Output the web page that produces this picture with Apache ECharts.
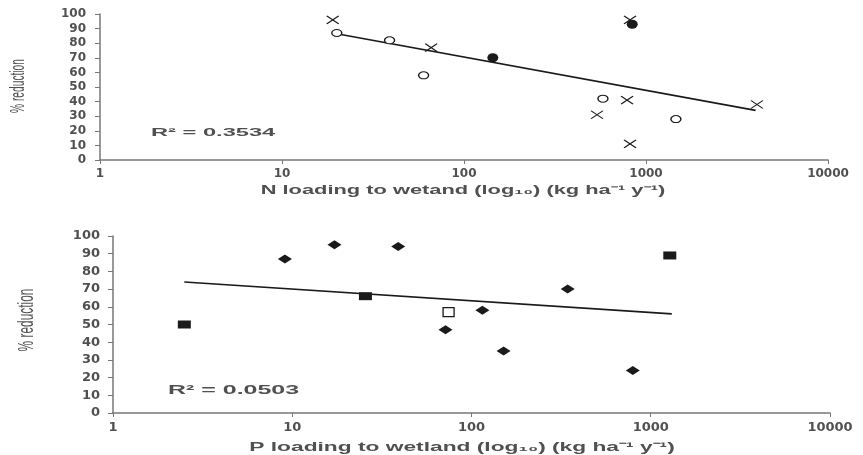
<!DOCTYPE html>
<html>
<head>
<meta charset="utf-8">
<script src="https://cdn.jsdelivr.net/npm/echarts@6/dist/echarts.min.js"></script>
<style>
  html, body { margin: 0; padding: 0; background: #fff; }
  #chart { width: 863px; height: 455px; }
</style>
</head>
<body>
<div id="chart"></div>
<script>
// tick labels
var xTicks = [1, 10, 100, 1000, 10000];
var yTicks = [0, 10, 20, 30, 40, 50, 60, 70, 80, 90, 100];

// N loading (top panel): [load, % reduction]
var nCross = [[19, 96], [66, 77], [817, 96], [787, 41], [538, 31], [817, 11], [4070, 38]];
var nOpenCircle = [[20, 87], [39, 82], [60, 58], [580, 42], [1460, 28]];
var nFilledCircle = [[144, 70], [840, 93]];
var nTrend = [[20, 86.5], [4000, 34]];
var nR2 = 'R² = 0.3534';
var nName = 'N loading to wetand (log₁₀) (kg ha⁻¹ y⁻¹)';

// P loading (bottom panel)
var pDiamond = [[9.1, 87], [17.2, 95], [39, 94], [71.6, 47], [115, 58], [151, 35], [344, 70], [794, 24]];
var pFilledSquare = [[2.5, 50], [25.6, 66], [1277, 89]];
var pOpenSquare = [[74.5, 57]];
var pTrend = [[2.5, 74], [1310, 56]];
var pR2 = 'R² = 0.0503';
var pName = 'P loading to wetland (log₁₀) (kg ha⁻¹ y⁻¹)';
var yName = '% reduction';

var chart = echarts.init(document.getElementById('chart'));
var ink = '#1a1a1a';
var axisGrey = '#777';
var labelCol = '#505050';
var font = 'DejaVu Sans';
var wideFont = 'Liberation Sans';
var crossPath = 'path://M0,0L10,10M10,0L0,10';

function xAxisFor(idx, fs) {
  return {
    gridIndex: idx, type: 'log', logBase: 10,
    min: xTicks[0], max: xTicks[xTicks.length - 1],
    axisLine: { lineStyle: { color: axisGrey, width: 1.5 } },
    axisTick: { show: true, length: 4, lineStyle: { color: axisGrey } },
    minorTick: { show: false },
    splitLine: { show: false },
    axisLabel: {
      fontFamily: font, fontSize: fs, fontWeight: 'bold', color: labelCol, margin: 8,
      formatter: function (v) { return xTicks.indexOf(v) >= 0 ? String(v) : ''; }
    }
  };
}
function yAxisFor(idx, fs, margin) {
  return {
    gridIndex: idx, type: 'value',
    min: yTicks[0], max: yTicks[yTicks.length - 1], interval: 10,
    axisLine: { show: true, lineStyle: { color: axisGrey, width: 1.5 } },
    axisTick: { show: true, length: 5, lineStyle: { color: axisGrey } },
    splitLine: { show: false },
    axisLabel: { fontFamily: font, fontSize: fs, fontWeight: 'bold', color: labelCol, margin: margin }
  };
}
function scatter(idx, data, symbol, size, fill, border) {
  return {
    type: 'scatter', xAxisIndex: idx, yAxisIndex: idx, data: data,
    symbol: symbol, symbolSize: size, silent: true,
    itemStyle: { color: fill, borderColor: border || fill, borderWidth: border ? 1.2 : 0, opacity: 1 }
  };
}
function trend(idx, data) {
  return {
    type: 'line', xAxisIndex: idx, yAxisIndex: idx, data: data,
    showSymbol: false, silent: true, z: 1,
    lineStyle: { color: ink, width: 1.6 }
  };
}
// horizontally stretched text, like the scanned figure
function wideText(txt, x, y, size, sx, align) {
  return {
    type: 'text', x: x, y: y, scaleX: sx, silent: true,
    style: {
      text: txt, fontFamily: wideFont, fontSize: size, fontWeight: 'bold', fill: labelCol,
      align: align, verticalAlign: 'middle'
    }
  };
}
// rotated axis title, condensed along its length
function sideText(txt, x, y, size, sx, sy) {
  return {
    type: 'text', x: x, y: y, rotation: Math.PI / 2, scaleX: sx, scaleY: sy, silent: true,
    style: {
      text: txt, fontFamily: wideFont, fontSize: size, fill: labelCol,
      align: 'center', verticalAlign: 'middle'
    }
  };
}

chart.setOption({
  animation: false,
  backgroundColor: '#fff',
  grid: [
    { left: 100, right: 35, top: 14, height: 146 },
    { left: 113, right: 33, top: 236, height: 177 }
  ],
  xAxis: [xAxisFor(0, 12), xAxisFor(1, 13)],
  yAxis: [yAxisFor(0, 12, 14), yAxisFor(1, 13, 13)],
  graphic: [
    wideText(nR2, 151, 133, 11, 2.15, 'left'),
    wideText(pR2, 168, 390, 13, 1.92, 'left'),
    wideText(nName, 463, 191, 12, 1.82, 'center'),
    wideText(pName, 462, 447, 13, 1.75, 'center'),
    sideText(yName, 18, 86, 15, 0.68, 1.35),
    sideText(yName, 27, 320, 17, 0.7, 1.3)
  ],
  series: [
    trend(0, nTrend),
    scatter(0, nCross, crossPath, [12, 8], 'none', ink),
    scatter(0, nOpenCircle, 'circle', [10, 7], '#fff', ink),
    scatter(0, nFilledCircle, 'circle', [11, 9], ink),
    trend(1, pTrend),
    scatter(1, pDiamond, 'diamond', [14, 9], ink),
    scatter(1, pFilledSquare, 'rect', [13, 8], ink),
    scatter(1, pOpenSquare, 'rect', [11, 9], '#fff', ink)
  ]
});
</script>
</body>
</html>
